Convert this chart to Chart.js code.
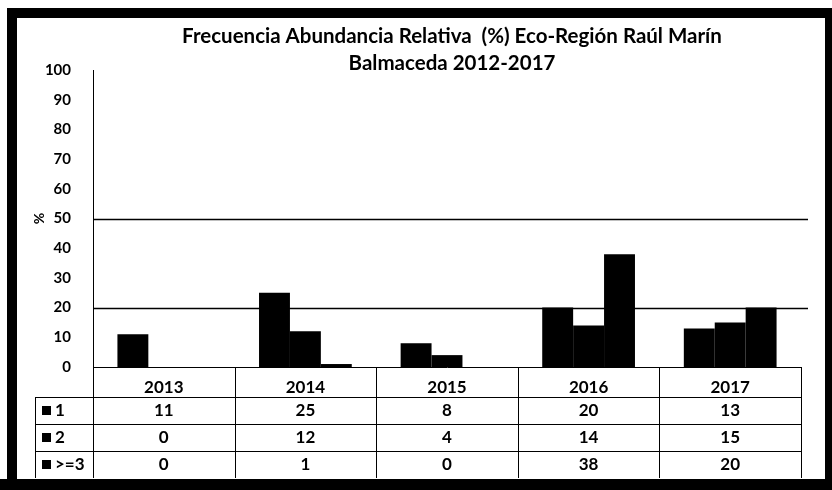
<!DOCTYPE html>
<html><head><meta charset="utf-8">
<script src="https://cdn.jsdelivr.net/npm/chart.js@4/dist/chart.umd.min.js"></script>
<style>html,body{margin:0;padding:0;background:#fff}#wrap{width:832px;height:490px}</style>
</head><body><div id="wrap"><canvas id="c" width="832" height="490"></canvas></div>
<script>
const titleLines = ['Frecuencia Abundancia Relativa  (%) Eco-Región Raúl Marín', 'Balmaceda 2012-2017'];
const categories = ['2013', '2014', '2015', '2016', '2017'];
const seriesNames = ['1', '2', '>=3'];
const series1 = [11, 25, 8, 20, 13];
const series2 = [0, 12, 4, 14, 15];
const series3 = [0, 1, 0, 38, 20];
const yTickValues = [0, 10, 20, 30, 40, 50, 60, 70, 80, 90, 100];
const refLines = [50, 20];
const yTitle = '%';

const FONT = 'Lato, "Liberation Sans", Arial, sans-serif';
const seriesData = [series1, series2, series3];

const framePlugin = {
  id: 'frame',
  beforeDraw(chart) {
    const ctx = chart.ctx;
    ctx.save();
    ctx.fillStyle = '#fff';
    ctx.fillRect(0, 0, chart.width, chart.height);
    ctx.restore();
  },
  afterDatasetsDraw(chart) {
    const ctx = chart.ctx, ca = chart.chartArea, y = chart.scales.y;
    ctx.save();
    ctx.strokeStyle = '#000';
    ctx.lineWidth = 1.6;
    refLines.forEach(v => {
      const py = Math.round(y.getPixelForValue(v)) + 0.5;
      ctx.beginPath();
      ctx.moveTo(ca.left, py);
      ctx.lineTo(ca.right + 7, py);
      ctx.stroke();
    });
    ctx.restore();
  },
  afterDraw(chart) {
    const ctx = chart.ctx, ca = chart.chartArea;
    ctx.save();
    // title
    ctx.fillStyle = '#000';
    ctx.textAlign = 'center';
    ctx.textBaseline = 'middle';
    ctx.font = 'bold 20.5px ' + FONT;
    const cx = (ca.left + ca.right) / 2 + 5;
    ctx.fillText(titleLines[0], cx, 36);
    ctx.fillText(titleLines[1], cx, 63);

    // data table
    const n = categories.length;
    const colW = (ca.right - ca.left) / n;
    const headTop = ca.bottom, headH = 30, rowH = 27;
    const tableLeft = 35;
    const rowsTop = headTop + headH;
    const tableBottom = rowsTop + rowH * seriesNames.length;
    ctx.strokeStyle = '#000';
    ctx.lineWidth = 1;
    ctx.beginPath();
    for (let i = 0; i <= n; i++) {
      const x = Math.round(ca.left + i * colW) + 0.5;
      ctx.moveTo(x, headTop);
      ctx.lineTo(x, tableBottom);
    }
    ctx.moveTo(tableLeft + 0.5, rowsTop);
    ctx.lineTo(tableLeft + 0.5, tableBottom);
    for (let r = 0; r < seriesNames.length; r++) {
      const y = Math.round(rowsTop + r * rowH) + 0.5;
      ctx.moveTo(tableLeft, y);
      ctx.lineTo(ca.right, y);
    }
    ctx.stroke();

    ctx.font = 'bold 17px ' + FONT;
    ctx.textBaseline = 'middle';
    for (let r = 0; r < seriesNames.length; r++) {
      const cy = rowsTop + r * rowH + rowH / 2;
      ctx.fillRect(tableLeft + 7, cy - 4.5, 9, 9);
      ctx.textAlign = 'left';
      ctx.fillText(seriesNames[r], tableLeft + 20, cy);
      ctx.textAlign = 'center';
      seriesData[r].forEach((v, i) => {
        ctx.fillText(String(v), ca.left + (i + 0.5) * colW, cy);
      });
    }

    // black scan frame
    ctx.fillStyle = '#000';
    ctx.fillRect(7, 8, chart.width - 7, 10);
    ctx.fillRect(7, 8, 10, chart.height - 8);
    ctx.fillRect(825, 8, 7, chart.height - 8);
    ctx.fillRect(0, 479, chart.width, 11);
    ctx.restore();
  }
};

const ds = seriesNames.map((name, i) => ({
  label: name,
  data: seriesData[i],
  backgroundColor: '#000',
  borderWidth: 0,
  barPercentage: 1.0,
  categoryPercentage: 0.655
}));

new Chart(document.getElementById('c'), {
  type: 'bar',
  data: { labels: categories, datasets: ds },
  options: {
    responsive: false,
    animation: false,
    devicePixelRatio: 1,
    layout: { padding: { top: 70, left: 0, right: 31, bottom: 0 } },
    plugins: { legend: { display: false }, title: { display: false }, tooltip: { enabled: false } },
    scales: {
      x: {
        grid: { display: false },
        border: { display: true, color: '#000', width: 1 },
        ticks: { color: '#000', font: { family: FONT, size: 17, weight: 'bold' }, padding: 2, maxRotation: 0 },
        afterFit(s) { s.height = 123; }
      },
      y: {
        min: 0, max: 100,
        afterBuildTicks(s) { s.ticks = yTickValues.map(v => ({ value: v })); },
        grid: { display: false },
        border: { display: true, color: '#000', width: 1 },
        ticks: { color: '#000', font: { family: FONT, size: 15, weight: 'bold' }, padding: 14 },
        title: { display: true, text: yTitle, color: '#000', font: { family: FONT, size: 14, weight: 'bold' }, padding: { top: 31, bottom: 0 } },
        afterFit(s) { s.width = 93; }
      }
    }
  },
  plugins: [framePlugin]
});
</script>
</body></html>
